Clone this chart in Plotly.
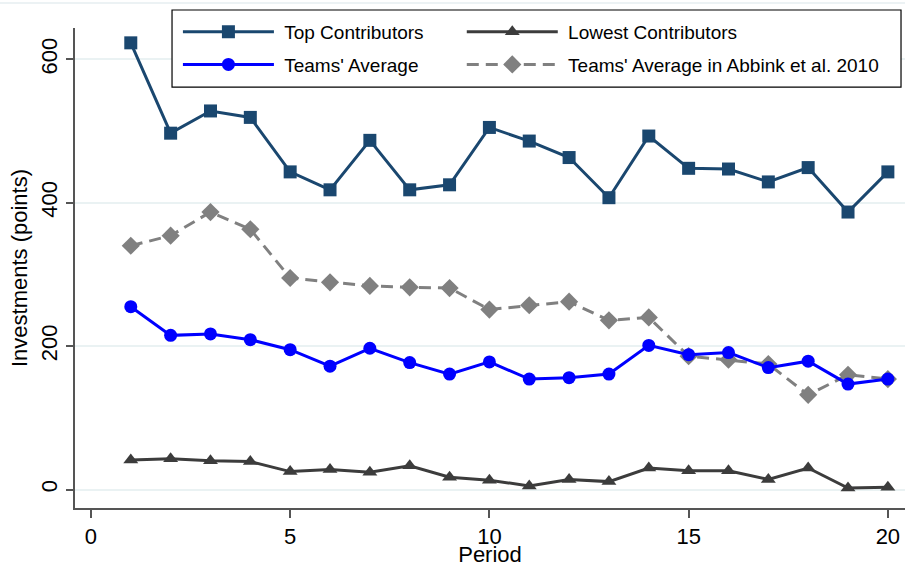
import plotly.graph_objects as go

# Investment per period, read from the experiment summary
periods = list(range(1, 21))
top_contributors = [623, 497, 528, 519, 443, 418, 487, 418, 425, 505,
                    486, 463, 407, 493, 448, 447, 429, 449, 387, 443]
lowest_contributors = [41, 43, 40, 39, 25, 28, 24, 33, 17, 13,
                       5, 14, 11, 30, 26, 26, 14, 30, 2, 3]
teams_average = [255, 215, 217, 209, 195, 172, 197, 177, 161, 178,
                 154, 156, 161, 201, 188, 191, 170, 179, 147, 154]
abbink_average = [340, 354, 387, 363, 295, 289, 284, 282, 281, 251,
                  257, 262, 236, 240, 186, 181, 175, 132, 160, 154]

x_ticks = [0, 5, 10, 15, 20]
y_ticks = [0, 200, 400, 600]

FONT = "Liberation Sans, Arial, sans-serif"
NAVY = "#1a476f"
DARK = "#3c3c3c"
BLUE = "#0000ff"
GRAY = "#808080"
PAD = "\u00a0"  # small gap between legend sample and label

fig = go.Figure()

fig.add_trace(go.Scatter(
    x=periods, y=abbink_average, name=PAD + "Teams' Average in Abbink et al. 2010",
    mode="lines+markers", line=dict(color=GRAY, width=3, dash="12px,7px"),
    marker=dict(symbol="diamond", size=14, color=GRAY),
    legend="legend2", legendgroup="d", legendrank=2))
fig.add_trace(go.Scatter(
    x=periods, y=lowest_contributors, name=PAD + "Lowest Contributors",
    mode="lines+markers", line=dict(color=DARK, width=3),
    marker=dict(symbol="triangle-up", size=13, color=DARK),
    legend="legend2", legendgroup="c", legendrank=1))
fig.add_trace(go.Scatter(
    x=periods, y=teams_average, name=PAD + "Teams' Average",
    mode="lines+markers", line=dict(color=BLUE, width=3),
    marker=dict(symbol="circle", size=13, color=BLUE),
    legend="legend", legendgroup="b", legendrank=2))
fig.add_trace(go.Scatter(
    x=periods, y=top_contributors, name=PAD + "Top Contributors",
    mode="lines+markers", line=dict(color=NAVY, width=3),
    marker=dict(symbol="square", size=13, color=NAVY),
    legend="legend", legendgroup="a", legendrank=1))

legend_common = dict(
    font=dict(family=FONT, size=19, color="black"),
    bgcolor="rgba(0,0,0,0)", borderwidth=0, itemwidth=91,
    traceorder="grouped", tracegroupgap=5,
    yanchor="top", y=1.0316, xanchor="left",
)

fig.update_layout(
    width=905, height=567,
    margin=dict(l=75, r=0, t=28, b=59),
    paper_bgcolor="white", plot_bgcolor="white",
    font=dict(family=FONT, color="black"),
    legend=dict(x=0.124, **legend_common),
    legend2=dict(x=0.466, **legend_common),
    xaxis=dict(
        range=[-0.4, 20.43], tickvals=x_ticks, showgrid=False, zeroline=False,
        showline=True, linecolor="#555555", linewidth=1.5,
        ticks="outside", ticklen=8, tickcolor="#555555", tickwidth=1.5,
        tickfont=dict(size=22, family=FONT, color="black"),
        title=dict(text="Period", font=dict(size=22, family=FONT, color="black"), standoff=0),
    ),
    yaxis=dict(
        range=[-25.8, 643.7], tickvals=y_ticks, tickangle=-90,
        showgrid=True, gridcolor="#eaf2f3", gridwidth=2, zeroline=False,
        showline=True, linecolor="#555555", linewidth=1.5,
        ticks="outside", ticklen=7, tickcolor="#555555", tickwidth=1.5,
        tickfont=dict(size=22, family=FONT, color="black"),
        title=dict(text="Investments (points)", font=dict(size=22, family=FONT, color="black"), standoff=4),
    ),
    shapes=[
        # legend frame
        dict(type="rect", xref="paper", yref="paper", layer="above",
             x0=0.1169, x1=0.9952, y0=0.877, y1=1.0375,
             line=dict(color="black", width=1.2), fillcolor="white"),
        # faint outer frame line at the top
        dict(type="line", xref="paper", yref="paper", layer="below",
             x0=-0.0904, x1=1.0, y0=1.052, y1=1.052,
             line=dict(color="#e6eef0", width=1.5)),
    ],
)

fig.write_html("out.html")
